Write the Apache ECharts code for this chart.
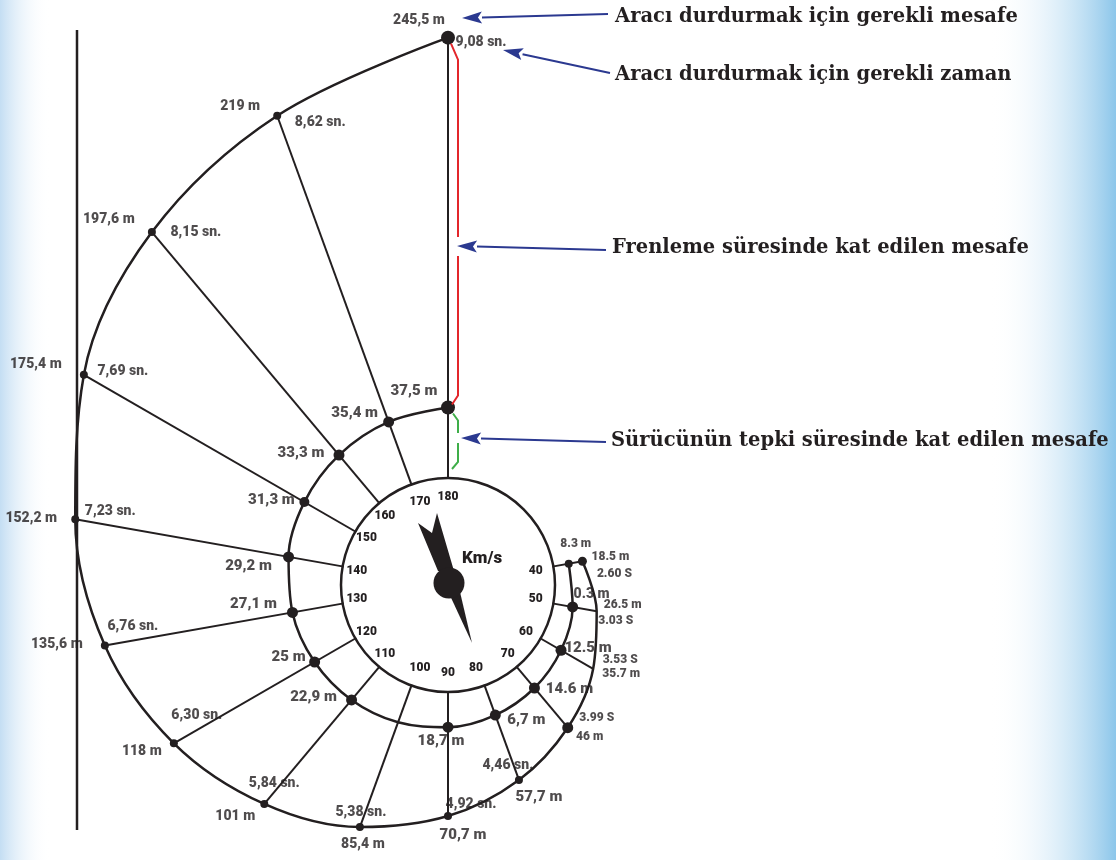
<!DOCTYPE html>
<html>
<head>
<meta charset="utf-8">
<script src="https://cdn.jsdelivr.net/npm/echarts@6/dist/echarts.min.js"></script>
<style>
html, body { margin: 0; padding: 0; background: #fff; }
#chart { width: 1116px; height: 860px; }
</style>
</head>
<body>
<div id="chart"></div>
<script>
// speeds (km/h) and the distances / times read for each one
const speeds = [180, 170, 160, 150, 140, 130, 120, 110, 100, 90, 80, 70, 60, 50, 40]
const reactionDist = [37.5, 35.4, 33.3, 31.3, 29.2, 27.1, 25, 22.9, 20.8, 18.7, 16.7, 14.6, 12.5, 10.4, 8.3]
const stopDist = [245.5, 219, 197.6, 175.4, 152.2, 135.6, 118, 101, 85.4, 70.7, 57.7, 46, 35.7, 26.5, 18.5]
const reactionLabels = ['37,5 m', '35,4 m', '33,3 m', '31,3 m', '29,2 m', '27,1 m', '25 m', '22,9 m', '', '18,7 m', '6,7 m', '14.6 m', '12.5 m', '0.3 m', '8.3 m']
const stopLabels = ['245,5 m', '219 m', '197,6 m', '175,4 m', '152,2 m', '135,6 m', '118 m', '101 m', '85,4 m', '70,7 m', '57,7 m', '46 m', '35.7 m', '26.5 m', '18.5 m']
const timeLabels = ['9,08 sn.', '8,62 sn.', '8,15 sn.', '7,69 sn.', '7,23 sn.', '6,76 sn.', '6,30 sn.', '5,84 sn.', '5,38 sn.', '4,92 sn.', '4,46 sn.', '3.99 S', '3.53 S', '3.03 S', '2.60 S']
const dialTicks = [40, 50, 60, 70, 80, 90, 100, 110, 120, 130, 140, 150, 160, 170, 180]
const notes = [
  'Aracı durdurmak için gerekli mesafe',
  'Aracı durdurmak için gerekli zaman',
  'Frenleme süresinde kat edilen mesafe',
  'Sürücünün tepki süresinde kat edilen mesafe'
]

// layout / style
const CX = 448, CY = 585
const DIAL_R = 107
const INK = '#231f20'
const FONT = 'Roboto'
const innerDot = [14, 11, 11, 10, 11, 11, 11, 11, 0, 11, 11, 11, 11, 11, 8]
const outerDot = [14, 8, 8, 8, 8, 8, 8, 8, 8, 8, 8, 11, 0, 0, 9]
const reactOff = [[-34, -16], [-34, -9], [-38, -2], [-33, -2], [-40, 9], [-39, -8], [-26, -5], [-38, -3], [0, 0], [-7, 14], [31, 5], [35, 1], [27, -2], [19, -12], [7, -20]]
const reactSize = [15, 15, 15, 15, 15, 15, 15, 15, 15, 15, 15, 15, 15, 14, 12]
const stopOff = [[-29, -17], [-37, -9], [-43, -13], [-48, -10], [-44, -1], [-48, -1], [-32, 8], [-29, 13], [3, 17], [15, 19], [20, 17], [22, 9], [28, 5], [26, -6], [28, -4]]
const stopSize = [14, 14, 14, 14, 14, 14, 14, 14, 14, 15, 15, 12, 12, 12, 12]
const timeOff = [[33, 5], [43, 7], [44, 0], [39, -3], [35, -8], [28, -19], [23, -28], [10, -20], [1, -15], [23, -11], [-11, -14], [29, -10], [27, -9], [19, 10], [32, 13]]
const timeSize = [14, 14, 14, 14, 14, 14, 14, 14, 14, 14, 14, 12, 12, 12, 12]

const chart = echarts.init(document.getElementById('chart'))

// polar 0: stopping distance ring, polar 1: reaction distance ring, polar 2: dial
const ring = (dists, sizes, polarIndex) => ({
  type: 'line',
  coordinateSystem: 'polar',
  polarIndex,
  smooth: 0.35,
  data: speeds.map((v, i) => [dists[i], v]),
  symbol: 'circle',
  symbolSize: (val, p) => sizes[p.dataIndex],
  itemStyle: { color: INK },
  lineStyle: { color: INK, width: 2.5 },
  silent: true,
  z: 3
})

const labelSeries = (texts, dists, offs, sizes, polarIndex) => ({
  type: 'scatter',
  coordinateSystem: 'polar',
  polarIndex,
  symbolSize: 1,
  itemStyle: { color: 'rgba(0,0,0,0)' },
  silent: true,
  z: 6,
  label: {
    show: true, position: 'inside', align: 'center', verticalAlign: 'middle',
    color: INK, fontFamily: FONT, fontWeight: 900
  },
  data: speeds.map((v, i) => ({
    value: [dists[i], v],
    label: { formatter: texts[i], offset: offs[i], fontSize: sizes[i] }
  }))
})

const spokes = speeds.map((v, i) => ({
  type: 'line',
  coordinateSystem: 'polar',
  polarIndex: 0,
  data: [[0, v], [stopDist[i], v]],
  symbol: 'none',
  lineStyle: { color: INK, width: 2 },
  silent: true,
  z: 2
}))

const hiddenAngle = i => ({ polarIndex: i, type: 'value', min: 0, max: 180, startAngle: 90, clockwise: true, show: false })

const option = {
  animation: false,
  backgroundColor: '#fff',
  polar: [
    { center: [CX, CY], radius: [103, 103 + 1.81 * 260] },
    { center: [CX, CY], radius: [DIAL_R, DIAL_R + 1.88 * 260] },
    { center: [CX, CY], radius: DIAL_R }
  ],
  angleAxis: [
    hiddenAngle(0),
    hiddenAngle(1),
    {
      polarIndex: 2, type: 'value', min: 10, max: 190, interval: 10, startAngle: 70, clockwise: true, z: 12,
      axisLine: { lineStyle: { color: INK, width: 2.5 } },
      axisTick: { show: false },
      splitLine: { show: false },
      axisLabel: {
        margin: -25, color: INK, fontFamily: FONT, fontWeight: 900, fontSize: 12,
        formatter: v => dialTicks.includes(v) ? String(v) : ''
      }
    }
  ],
  radiusAxis: [
    { polarIndex: 0, type: 'value', min: 0, max: 260, show: false },
    { polarIndex: 1, type: 'value', min: 0, max: 260, show: false },
    { polarIndex: 2, type: 'value', min: 0, max: 1, show: false }
  ],
  series: [
    ring(stopDist, outerDot, 0),
    ring(reactionDist, innerDot, 1),
    ...spokes,
    labelSeries(reactionLabels, reactionDist, reactOff, reactSize, 1),
    labelSeries(stopLabels, stopDist, stopOff, stopSize, 0),
    labelSeries(timeLabels, stopDist, timeOff, timeSize, 0)
  ]
}

chart.setOption(option)

// annotations, anchored on the 180 km/h spoke through the polar scales
const pTop = chart.convertToPixel({ seriesIndex: 0 }, [stopDist[0], speeds[0]])
const pMid = chart.convertToPixel({ seriesIndex: 1 }, [reactionDist[0], speeds[0]])
const pBase = chart.convertToPixel({ seriesIndex: 1 }, [0, speeds[0]])

const BLUE = '#2b3990'
const arrow = (x1, y1, x2, y2) => {
  const a = Math.atan2(y2 - y1, x2 - x1)
  const L = 20, W = 6
  const bx = x2 - L * Math.cos(a), by = y2 - L * Math.sin(a)
  return [
    { type: 'line', shape: { x1, y1, x2: bx, y2: by }, style: { stroke: BLUE, lineWidth: 2 }, z: 20 },
    {
      type: 'polygon', z: 20,
      shape: { points: [[x2, y2], [bx - W * Math.sin(a), by + W * Math.cos(a)], [bx + 4 * Math.cos(a), by + 4 * Math.sin(a)], [bx + W * Math.sin(a), by - W * Math.cos(a)]] },
      style: { fill: BLUE }
    }
  ]
}

const noteY = [17, 75, 248, 441]
const noteX = [615, 615, 612, 611]
const RED = '#e3262b', GREEN = '#3fae49'
const gapBrake = 246, gapReact = 438

const graphic = [
  // blue side fades
  {
    type: 'rect', z: -10, shape: { x: 0, y: 0, width: 50, height: 860 },
    style: { fill: new echarts.graphic.LinearGradient(0, 0, 1, 0, [{ offset: 0, color: '#c4def3' }, { offset: 1, color: 'rgba(255,255,255,0)' }]) }
  },
  {
    type: 'rect', z: -10, shape: { x: 990, y: 0, width: 126, height: 860 },
    style: { fill: new echarts.graphic.LinearGradient(0, 0, 1, 0, [{ offset: 0, color: 'rgba(255,255,255,0)' }, { offset: 1, color: '#8cc6ea' }]) }
  },
  // dial face over the spoke ends
  { type: 'circle', z: 4, shape: { cx: CX, cy: CY, r: DIAL_R - 1 }, style: { fill: '#fff' } },
  // left vertical line
  { type: 'line', shape: { x1: 77, y1: 30, x2: 77, y2: 830 }, style: { stroke: INK, lineWidth: 2.5 } },
  // braking distance (red)
  {
    type: 'polyline', z: 15,
    shape: { points: [[pTop[0] + 3, pTop[1] + 6], [pTop[0] + 10, pTop[1] + 22], [pTop[0] + 10, gapBrake - 9]] },
    style: { stroke: RED, lineWidth: 2, fill: null }
  },
  {
    type: 'polyline', z: 15,
    shape: { points: [[pMid[0] + 10, gapBrake + 10], [pMid[0] + 10, pMid[1] - 12], [pMid[0] + 4, pMid[1] - 3]] },
    style: { stroke: RED, lineWidth: 2, fill: null }
  },
  // reaction distance (green)
  {
    type: 'polyline', z: 15,
    shape: { points: [[pMid[0] + 5, pMid[1] + 6], [pMid[0] + 10, pMid[1] + 13], [pMid[0] + 10, gapReact - 5]] },
    style: { stroke: GREEN, lineWidth: 2, fill: null }
  },
  {
    type: 'polyline', z: 15,
    shape: { points: [[pBase[0] + 10, gapReact + 5], [pBase[0] + 10, pBase[1] - 16], [pBase[0] + 4, pBase[1] - 9]] },
    style: { stroke: GREEN, lineWidth: 2, fill: null }
  },
  ...arrow(608, 14, 462, 18),
  ...arrow(610, 73, 503, 50),
  ...arrow(606, 250, 457, 246),
  ...arrow(606, 442, 461, gapReact),
  ...notes.map((t, i) => ({
    type: 'text', z: 20,
    style: { text: t, x: noteX[i], y: noteY[i], verticalAlign: 'middle', fill: INK, font: 'bold 19.5px "DejaVu Serif", serif' }
  })),
  // needle
  { type: 'polygon', z: 20, x: CX + 1, y: CY - 2, shape: { points: [[-31, -60], [-17, -50], [-12, -70], [5, -12], [-11, -12]] }, style: { fill: INK } },
  { type: 'polygon', z: 20, x: CX + 1, y: CY - 2, shape: { points: [[-2, 6], [11, 9], [23, 60]] }, style: { fill: INK } },
  { type: 'circle', z: 20, shape: { cx: CX + 1, cy: CY - 2, r: 15.5 }, style: { fill: INK } },
  {
    type: 'text', z: 20,
    style: { text: 'Km/s', x: 482, y: 559, align: 'center', verticalAlign: 'middle', fill: INK, font: '900 17px Roboto' }
  }
]

chart.setOption({ graphic })
</script>
</body>
</html>
